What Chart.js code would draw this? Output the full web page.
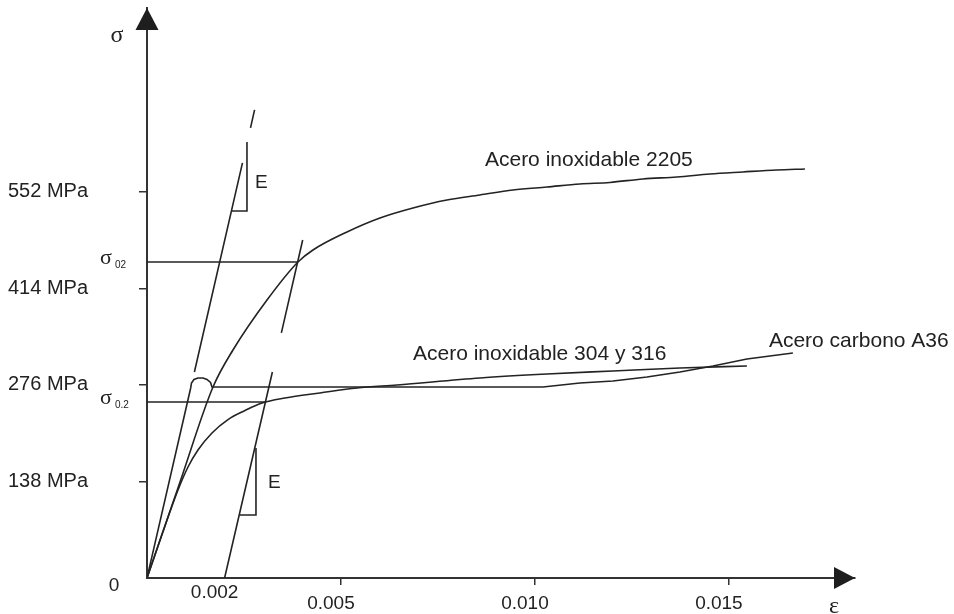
<!DOCTYPE html>
<html>
<head>
<meta charset="utf-8">
<script src="https://cdn.jsdelivr.net/npm/chart.js@4/dist/chart.umd.min.js"></script>
<style>
html,body{margin:0;padding:0;background:#fff}
canvas{display:block}
</style>
</head>
<body>
<canvas id="c" width="954" height="614"></canvas>
<script>
// ---- Data: strain (ε) vs stress (σ, MPa) ----
const xTickValues = [0.002, 0.005, 0.010, 0.015];
const xTickLabels = ['0.002', '0.005', '0.010', '0.015'];
const yTickValues = [138, 276, 414, 552];
const yTickLabels = ['138 MPa', '276 MPa', '414 MPa', '552 MPa'];

const strain2205 = [0, 0.000851, 0.001701, 0.002216, 0.003093, 0.003892, 0.004278, 0.005155, 0.006005, 0.006856, 0.007732, 0.008582, 0.009433, 0.010309, 0.011160, 0.011933, 0.012784, 0.013660, 0.014510, 0.015361, 0.016237, 0.016959];
const stress2205 = [0, 137.3, 273.1, 326.0, 397.5, 451.9, 469.0, 494.8, 514.8, 529.1, 540.5, 547.7, 554.8, 559.1, 563.4, 565.6, 570.6, 573.4, 577.7, 580.6, 583.4, 584.9];

const strain304 = [0, 0.000399, 0.000799, 0.001057, 0.001314, 0.001675, 0.002088, 0.002526, 0.002964, 0.003557, 0.004459, 0.005412, 0.006443, 0.008582, 0.010309, 0.012010, 0.013737, 0.015464];
const stress304 = [0, 64.4, 125.8, 158.7, 183.0, 207.4, 226.5, 239.5, 250.3, 257.4, 264.6, 271.7, 276.0, 286.0, 291.7, 296.0, 300.3, 303.2];

const strainA36 = [0, 0.001126, 0.001147, 0.001211, 0.001314, 0.001443, 0.001546, 0.001637, 0.001675, 0.010206, 0.011160, 0.012010, 0.012887, 0.013737, 0.014588, 0.015464, 0.016649];
const stressA36 = [0, 271.7, 278.9, 283.9, 286.0, 286.0, 283.9, 279.6, 273.1, 273.1, 278.9, 281.7, 287.4, 294.6, 303.2, 313.2, 321.8];

// elastic modulus line (upper parts) and 0.2% offset line (null = gap)
const strainModE = [0.001222, 0.002461, null, 0.002668, 0.002773];
const stressModE = [294.6, 593.5, null, 643.5, 669.3];
const strainOffset = [0.002, 0.003232, null, 0.003464, 0.004013];
const stressOffset = [0, 294.6, null, 350.4, 483.3];

// proof stress lines (σ0.2)
const strainSigma2205 = [0, 0.003892];
const stressSigma2205 = [451.9, 451.9];
const strainSigma304 = [0, 0.003055];
const stressSigma304 = [251.7, 251.7];

// slope triangles "E"
const strainTriUp = [0.002191, 0.002577, 0.002577];
const stressTriUp = [524.8, 524.8, 623.5];
const strainTriLow = [0.002397, 0.002809, 0.002809];
const stressTriLow = [90.1, 90.1, 185.9];

const curveLabels = [
  {text: 'Acero inoxidable 2205', x: 0.008711, y: 597.7},
  {text: 'Acero inoxidable 304 y 316', x: 0.006856, y: 320.3},
  {text: 'Acero carbono A36', x: 0.016031, y: 338.9}
];
const modulusLabels = [
  {text: 'E', x: 0.002784, y: 564.9},
  {text: 'E', x: 0.003119, y: 135.9}
];
const sigmaLabels = [
  {sub: '02', y: 451.9},
  {sub: '0.2', y: 251.7}
];
const yAxisName = 'σ';
const xAxisName = 'ε';
const originLabel = '0';

// ---- build ----
const pts = (xs, ys) => xs.map((v, i) => ({x: v, y: ys[i]}));
const INK = '#232323';
const line = (label, xs, ys, extra) => Object.assign({
  label, data: pts(xs, ys), borderColor: INK, borderWidth: 1.6,
  pointRadius: 0, fill: false, tension: 0, spanGaps: false
}, extra || {});

const annot = {
  id: 'annot',
  afterDraw(chart) {
    const {ctx, scales: {x, y}} = chart;
    ctx.save();
    ctx.fillStyle = '#1e1e1e';
    const ox = x.getPixelForValue(0), oy = y.getPixelForValue(0);
    const tx = x.getPixelForValue(x.max), ty = y.getPixelForValue(y.max);
    // arrow heads
    ctx.beginPath(); ctx.moveTo(ox, ty); ctx.lineTo(ox - 11.5, ty + 22); ctx.lineTo(ox + 11.5, ty + 22); ctx.closePath(); ctx.fill();
    ctx.beginPath(); ctx.moveTo(tx, oy); ctx.lineTo(tx - 21, oy - 11); ctx.lineTo(tx - 21, oy + 11); ctx.closePath(); ctx.fill();
    // curve labels
    ctx.fillStyle = '#222';
    ctx.textAlign = 'left'; ctx.textBaseline = 'middle';
    ctx.font = '21px "Liberation Sans", Arial, sans-serif';
    curveLabels.forEach(l => ctx.fillText(l.text, x.getPixelForValue(l.x), y.getPixelForValue(l.y)));
    ctx.font = '19px "Liberation Sans", Arial, sans-serif';
    modulusLabels.forEach(l => ctx.fillText(l.text, x.getPixelForValue(l.x), y.getPixelForValue(l.y)));
    // axis names
    ctx.textAlign = 'center'; ctx.textBaseline = 'alphabetic';
    ctx.font = '24px "Liberation Serif", "DejaVu Serif", serif';
    ctx.fillText(yAxisName, ox - 30, ty + 34);
    ctx.fillText(xAxisName, tx - 21, oy + 35);
    // origin
    ctx.textBaseline = 'middle';
    ctx.font = '19px "Liberation Sans", Arial, sans-serif';
    ctx.fillText(originLabel, ox - 33, oy + 8);
    // proof stress labels
    sigmaLabels.forEach(s => {
      const py = y.getPixelForValue(s.y);
      ctx.textAlign = 'left'; ctx.textBaseline = 'alphabetic';
      ctx.font = '22px "Liberation Serif", "DejaVu Serif", serif';
      ctx.fillText('σ', ox - 47, py + 2);
      ctx.font = '10px "Liberation Sans", Arial, sans-serif';
      ctx.fillText(s.sub, ox - 32, py + 6);
    });
    ctx.restore();
  }
};

new Chart(document.getElementById('c'), {
  type: 'line',
  data: {
    datasets: [
      line('Acero inoxidable 2205', strain2205, stress2205, {cubicInterpolationMode: 'monotone'}),
      line('Acero inoxidable 304 y 316', strain304, stress304, {cubicInterpolationMode: 'monotone'}),
      line('Acero carbono A36', strainA36, stressA36),
      line('E', strainModE, stressModE),
      line('Offset 0.002', strainOffset, stressOffset),
      line('σ0.2 2205', strainSigma2205, stressSigma2205),
      line('σ0.2 304', strainSigma304, stressSigma304),
      line('E up', strainTriUp, stressTriUp),
      line('E low', strainTriLow, stressTriLow)
    ]
  },
  options: {
    responsive: false,
    animation: false,
    layout: {padding: {top: 8, right: 99, left: 0, bottom: 0}},
    plugins: {legend: {display: false}, tooltip: {enabled: false}},
    scales: {
      x: {
        type: 'linear', min: 0, max: 0.01825,
        afterBuildTicks: s => { s.ticks = xTickValues.map(v => ({value: v})); },
        afterFit: s => { s.height = 36; s.paddingLeft = 0; s.paddingRight = 0; },
        border: {display: true, color: '#333', width: 2},
        grid: {
          drawOnChartArea: false, drawTicks: true, tickLength: 7, lineWidth: 1.5,
          tickColor: c => (c.tick && c.tick.value === xTickValues[0]) ? 'rgba(0,0,0,0)' : '#333'
        },
        ticks: {
          autoSkip: false, maxRotation: 0, minRotation: 0, padding: 2, labelOffset: -10,
          color: '#222',
          font: {family: '"Liberation Sans", Arial, sans-serif', size: 19, lineHeight: 0.6},
          callback: v => {
            const k = xTickValues.indexOf(v);
            return k === 0 ? xTickLabels[k] : ['', xTickLabels[k]];
          }
        }
      },
      y: {
        type: 'linear', min: 0, max: 815,
        afterBuildTicks: s => { s.ticks = yTickValues.map(v => ({value: v})); },
        afterFit: s => { s.width = 147; s.paddingTop = 0; s.paddingBottom = 0; },
        border: {display: true, color: '#333', width: 2},
        grid: {drawOnChartArea: false, drawTicks: true, tickLength: 8, lineWidth: 1.5, color: '#333'},
        ticks: {
          padding: 51, color: '#222',
          font: {family: '"Liberation Sans", Arial, sans-serif', size: 20},
          callback: v => yTickLabels[yTickValues.indexOf(v)]
        }
      }
    }
  },
  plugins: [annot]
});
</script>
</body>
</html>
